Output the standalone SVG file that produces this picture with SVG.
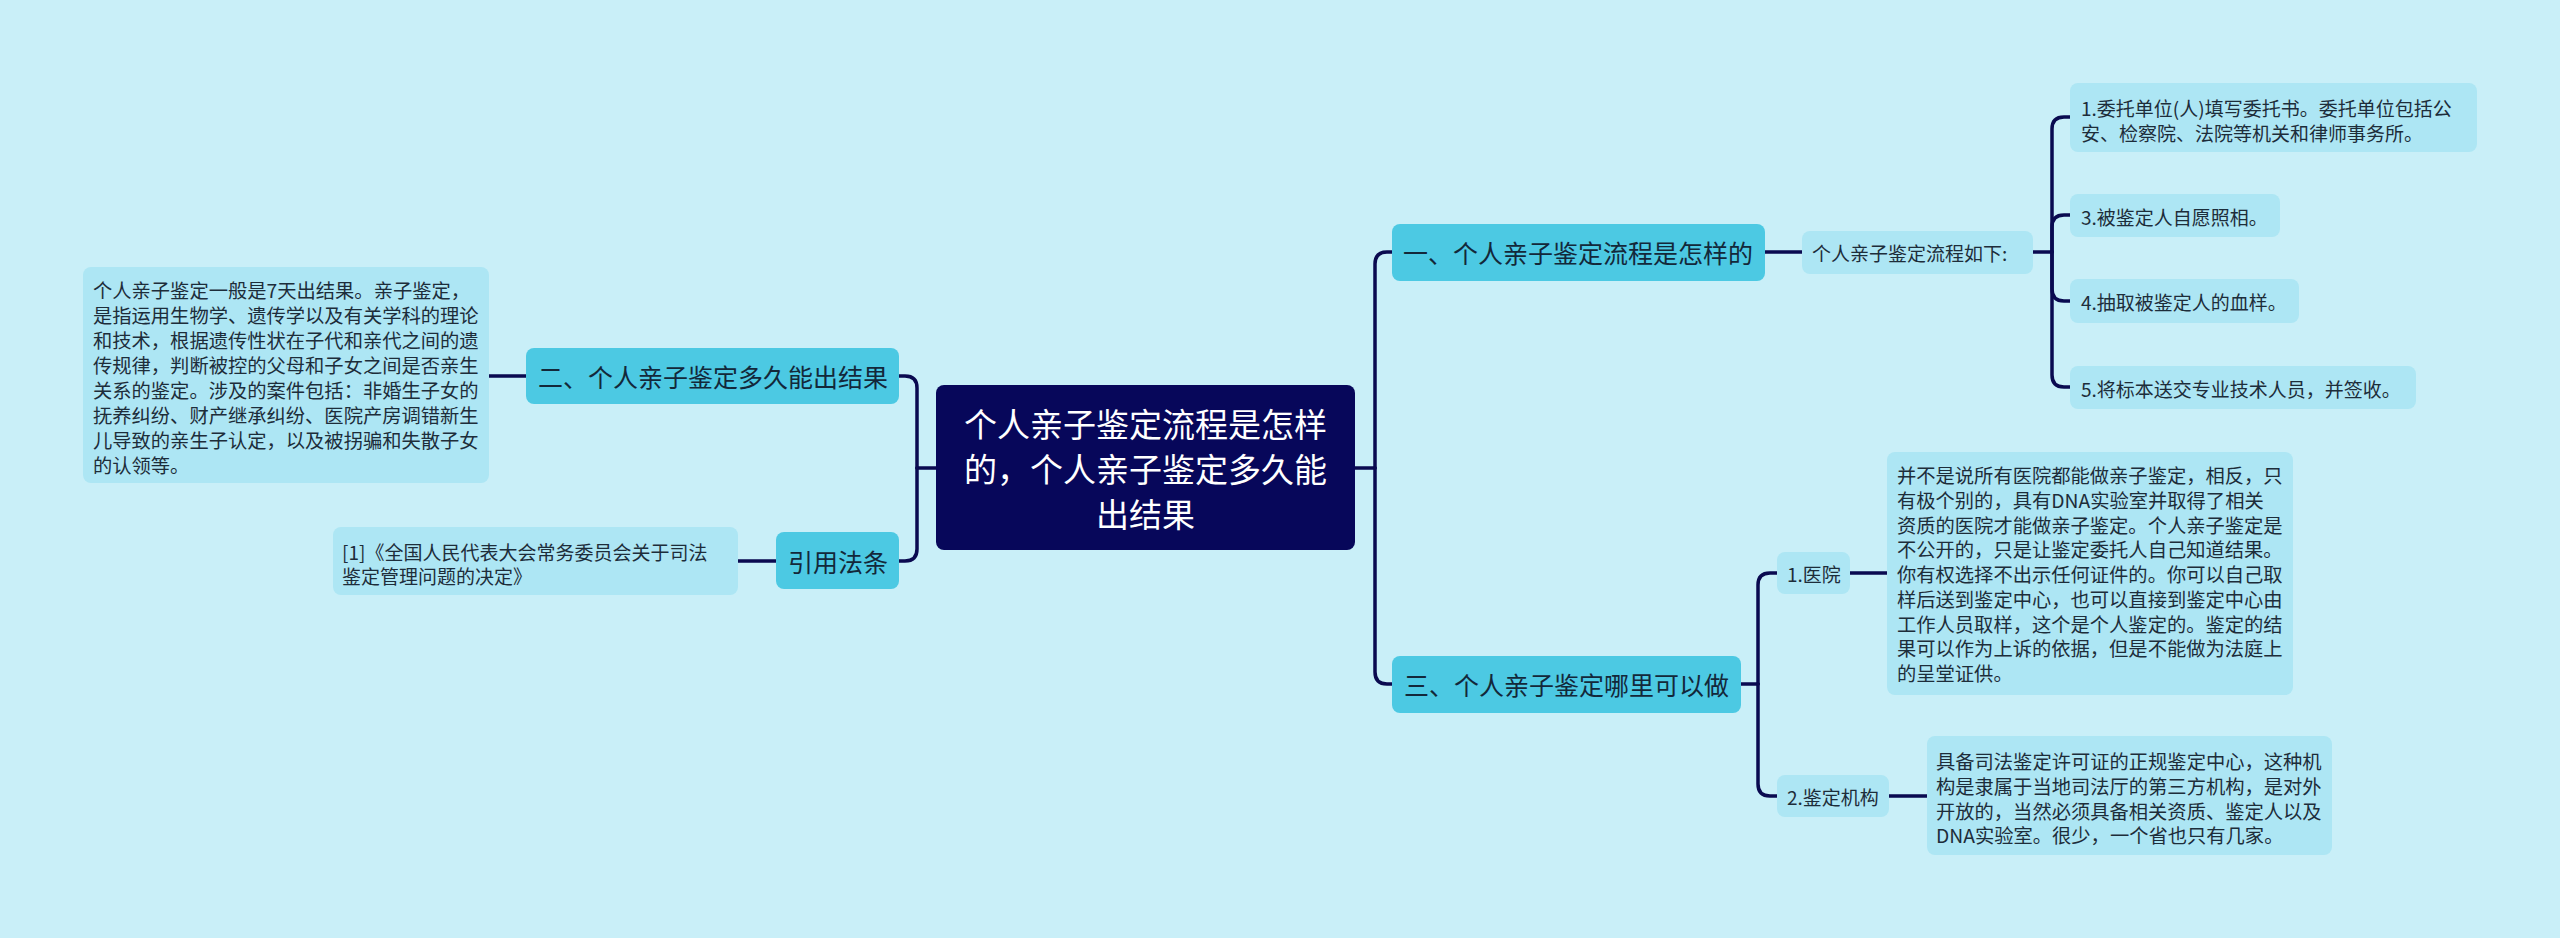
<svg xmlns="http://www.w3.org/2000/svg" width="2560" height="938" viewBox="0 0 2560 938">
<style>
text{font-family:"Noto Sans CJK SC","Noto Sans",sans-serif;dominant-baseline:central;}
.root rect{fill:#07075a;}
.root text{fill:#ffffff;font-size:33px;text-anchor:middle;}
.br rect{fill:#4cc9e3;}
.br text{fill:#13283a;font-size:25px;}
.lf rect{fill:#ade6f4;}
.lf text{fill:#1d2d3a;font-size:19px;}
.pg text{font-size:19.3px;}
.conn path{fill:none;stroke:#0a0a50;stroke-width:3.5;stroke-linecap:round;}
</style>
<rect width="2560" height="938" fill="#c9eff8"/>
<g class="conn">
<path d="M1355,468 H1375"/>
<path d="M1375,468 V264 Q1375,252 1387,252 H1392"/>
<path d="M1375,468 V672 Q1375,684 1387,684 H1392"/>
<path d="M936,468 H917"/>
<path d="M917,468 V388 Q917,376 905,376 H899"/>
<path d="M917,468 V549 Q917,561 905,561 H899"/>
<path d="M526,376 H489"/>
<path d="M776,561 H738"/>
<path d="M1765,252 H1802"/>
<path d="M2033,252 H2052"/>
<path d="M2052,252 V129 Q2052,117 2064,117 H2070"/>
<path d="M2052,252 V227 Q2052,215 2064,215 H2070"/>
<path d="M2052,252 V289 Q2052,301 2064,301 H2070"/>
<path d="M2052,252 V375 Q2052,387 2064,387 H2070"/>
<path d="M1741,684 H1758"/>
<path d="M1758,684 V585 Q1758,573 1770,573 H1777"/>
<path d="M1758,684 V784 Q1758,796 1770,796 H1777"/>
<path d="M1850,573 H1887"/>
<path d="M1889,796 H1927"/>
</g>
<g id="root" class="root">
<rect x="936" y="385" width="419" height="165" rx="8"/>
<text x="1145.5" y="423">个人亲子鉴定流程是怎样</text>
<text x="1145.5" y="468">的，个人亲子鉴定多久能</text>
<text x="1145.5" y="513">出结果</text>
</g>
<g id="b1" class="br">
<rect x="1392" y="224" width="373" height="57" rx="8"/>
<text x="1403" y="252">一、个人亲子鉴定流程是怎样的</text>
</g>
<g id="b1c" class="lf">
<rect x="1802" y="231" width="231" height="43" rx="8"/>
<text x="1812" y="252">个人亲子鉴定流程如下:</text>
</g>
<g id="s1" class="lf">
<rect x="2070" y="83" width="407" height="69" rx="8"/>
<text x="2081" y="107">1.委托单位(人)填写委托书。委托单位包括公</text>
<text x="2081" y="132">安、检察院、法院等机关和律师事务所。</text>
</g>
<g id="s3" class="lf">
<rect x="2070" y="194" width="210" height="43" rx="8"/>
<text x="2081" y="216">3.被鉴定人自愿照相。</text>
</g>
<g id="s4" class="lf">
<rect x="2070" y="279" width="229" height="44" rx="8"/>
<text x="2081" y="301">4.抽取被鉴定人的血样。</text>
</g>
<g id="s5" class="lf">
<rect x="2070" y="366" width="346" height="43" rx="8"/>
<text x="2081" y="388">5.将标本送交专业技术人员，并签收。</text>
</g>
<g id="b3" class="br">
<rect x="1392" y="656" width="349" height="57" rx="8"/>
<text x="1404" y="684">三、个人亲子鉴定哪里可以做</text>
</g>
<g id="h" class="lf">
<rect x="1777" y="552" width="73" height="42" rx="8"/>
<text x="1787" y="573">1.医院</text>
</g>
<g id="hd" class="lf pg">
<rect x="1887" y="452" width="406" height="243" rx="8"/>
<text x="1897" y="475">并不是说所有医院都能做亲子鉴定，相反，只</text>
<text x="1897" y="500">有极个别的，具有DNA实验室并取得了相关</text>
<text x="1897" y="525">资质的医院才能做亲子鉴定。个人亲子鉴定是</text>
<text x="1897" y="549">不公开的，只是让鉴定委托人自己知道结果。</text>
<text x="1897" y="574">你有权选择不出示任何证件的。你可以自己取</text>
<text x="1897" y="599">样后送到鉴定中心，也可以直接到鉴定中心由</text>
<text x="1897" y="624">工作人员取样，这个是个人鉴定的。鉴定的结</text>
<text x="1897" y="648">果可以作为上诉的依据，但是不能做为法庭上</text>
<text x="1897" y="673">的呈堂证供。</text>
</g>
<g id="a" class="lf">
<rect x="1777" y="775" width="112" height="42" rx="8"/>
<text x="1787" y="796">2.鉴定机构</text>
</g>
<g id="ad" class="lf pg">
<rect x="1927" y="736" width="405" height="119" rx="8"/>
<text x="1936" y="761">具备司法鉴定许可证的正规鉴定中心，这种机</text>
<text x="1936" y="786">构是隶属于当地司法厅的第三方机构，是对外</text>
<text x="1936" y="811">开放的，当然必须具备相关资质、鉴定人以及</text>
<text x="1936" y="835">DNA实验室。很少，一个省也只有几家。</text>
</g>
<g id="b2" class="br">
<rect x="526" y="348" width="373" height="56" rx="8"/>
<text x="538" y="376">二、个人亲子鉴定多久能出结果</text>
</g>
<g id="b2d" class="lf pg">
<rect x="83" y="267" width="406" height="216" rx="8"/>
<text x="93" y="290">个人亲子鉴定一般是7天出结果。亲子鉴定，</text>
<text x="93" y="315">是指运用生物学、遗传学以及有关学科的理论</text>
<text x="93" y="340">和技术，根据遗传性状在子代和亲代之间的遗</text>
<text x="93" y="365">传规律，判断被控的父母和子女之间是否亲生</text>
<text x="93" y="390">关系的鉴定。涉及的案件包括：非婚生子女的</text>
<text x="93" y="415">抚养纠纷、财产继承纠纷、医院产房调错新生</text>
<text x="93" y="440">儿导致的亲生子认定，以及被拐骗和失散子女</text>
<text x="93" y="465">的认领等。</text>
</g>
<g id="cite" class="br">
<rect x="776" y="532" width="123" height="57" rx="8"/>
<text x="788" y="561">引用法条</text>
</g>
<g id="cited" class="lf">
<rect x="333" y="527" width="405" height="68" rx="8"/>
<text x="342" y="551">[1]《全国人民代表大会常务委员会关于司法</text>
<text x="342" y="575">鉴定管理问题的决定》</text>
</g>
</svg>
